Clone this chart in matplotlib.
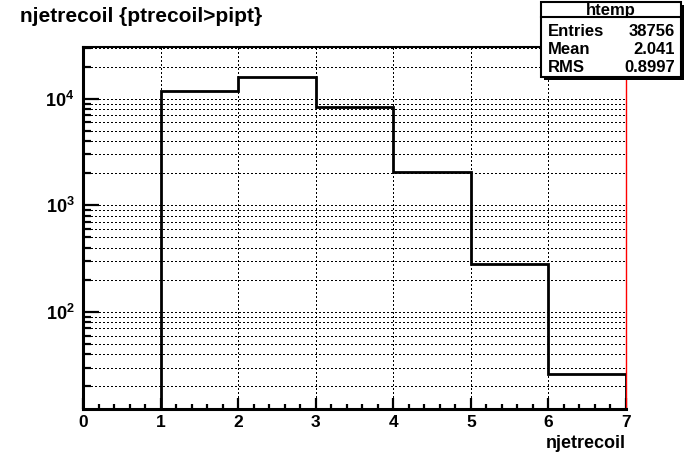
import matplotlib
matplotlib.use("Agg")
import matplotlib.pyplot as plt
import numpy as np
from matplotlib.patches import Rectangle
from matplotlib.lines import Line2D
from matplotlib.ticker import FixedLocator, LogLocator, NullFormatter, FixedFormatter

# ---- data ----
bin_edges = [1, 2, 3, 4, 5, 6, 7]
counts = [11900, 16100, 8430, 2060, 279, 26]
x_ticks = [0, 1, 2, 3, 4, 5, 6, 7]
y_major = [1e2, 1e3, 1e4]
y_major_labels = [r"$\mathbf{10^{2}}$", r"$\mathbf{10^{3}}$", r"$\mathbf{10^{4}}$"]
title = "njetrecoil {ptrecoil>pipt}"
xlabel = "njetrecoil"
stats_name = "htemp"
stats_labels = ["Entries", "Mean", "RMS"]
stats_values = ["38756", "2.041", "0.8997"]

plt.rcParams["font.family"] = ["Liberation Sans", "DejaVu Sans"]
plt.rcParams["font.weight"] = "bold"
plt.rcParams["mathtext.fontset"] = "custom"
plt.rcParams["mathtext.rm"] = "Liberation Sans:bold"
plt.rcParams["mathtext.bf"] = "Liberation Sans:bold"
plt.rcParams["mathtext.it"] = "Liberation Sans:bold"

W, H = 696, 474
fig = plt.figure(figsize=(W / 100, H / 100), dpi=100)

def fx(px):
    return px / W

def fy(py):
    return 1 - py / H

ax_l, ax_r, ax_t, ax_b = 83, 626, 47, 409
ax = fig.add_axes([fx(ax_l), fy(ax_b), (ax_r - ax_l) / W, (ax_b - ax_t) / H])
ax.set_yscale("log")
ax.set_xlim(0, 7)
ax.set_ylim(12.3, 30500)

ax.stairs(counts, bin_edges, baseline=1, color="black", linewidth=2.0, zorder=3)

# ticks
ax.xaxis.set_major_locator(FixedLocator(x_ticks))
ax.xaxis.set_minor_locator(FixedLocator([v for v in np.arange(0, 7.001, 0.2) if abs(v - round(v)) > 1e-6]))
ax.yaxis.set_major_locator(FixedLocator(y_major))
ax.yaxis.set_major_formatter(FixedFormatter(y_major_labels))
ax.yaxis.set_minor_locator(LogLocator(base=10, subs=np.arange(2, 10), numticks=20))
ax.yaxis.set_minor_formatter(NullFormatter())

ax.tick_params(axis="x", which="major", direction="in", length=8, width=1.6, pad=4,
               labelsize=12.5, top=False)
ax.tick_params(axis="x", which="minor", direction="in", length=3.8, width=1.6, top=False)
ax.tick_params(axis="y", which="major", direction="in", length=11.5, width=1.6, pad=6,
               labelsize=13, right=False)
ax.tick_params(axis="y", which="minor", direction="in", length=5.8, width=1.6, right=False)
for lab in ax.get_xticklabels() + ax.get_yticklabels():
    lab.set_fontweight("bold")

grid_kw = dict(color="black", linestyle=(0, (1, 2)), linewidth=1.0, antialiased=False)
ax.grid(True, axis="x", which="major", **grid_kw)
ax.grid(True, axis="y", which="both", **grid_kw)
ax.set_axisbelow(True)

ax.spines["left"].set_linewidth(2.2)
ax.spines["bottom"].set_linewidth(2.2)
ax.spines["top"].set_linewidth(1.5)
ax.spines["right"].set_linewidth(1)
ax.spines["right"].set_color("red")

# title and x label
fig.text(fx(20), fy(17), title, ha="left", va="center", fontsize=15, fontweight="bold")
fig.text(fx(626), fy(443), xlabel, ha="right", va="center", fontsize=13, fontweight="bold")

# stats box
bx0, bx1, by0, by1 = 541, 681, 2, 77
sh = 3
fig.add_artist(Rectangle((fx(bx0 + sh), fy(by1 + sh)), (bx1 - bx0) / W, (by1 - by0) / H,
                         transform=fig.transFigure, facecolor="black", edgecolor="none", zorder=10))
fig.add_artist(Rectangle((fx(bx0), fy(by1)), (bx1 - bx0) / W, (by1 - by0) / H,
                         transform=fig.transFigure, facecolor="white", edgecolor="black",
                         linewidth=1.5, zorder=11))
fig.add_artist(Line2D([fx(bx0), fx(bx1)], [fy(17), fy(17)], transform=fig.transFigure,
                      color="black", linewidth=1.5, zorder=12))
fig.text(fx((bx0 + bx1) / 2), fy(10), stats_name, ha="center", va="center",
         fontsize=12, fontweight="bold", zorder=13)
row_y = [31, 50, 68]
for lab, val, yy in zip(stats_labels, stats_values, row_y):
    fig.text(fx(548), fy(yy), lab, ha="left", va="center", fontsize=12, fontweight="bold", zorder=13)
    fig.text(fx(675), fy(yy), val, ha="right", va="center", fontsize=12, fontweight="bold", zorder=13)

fig.savefig("out.png", dpi=100)
